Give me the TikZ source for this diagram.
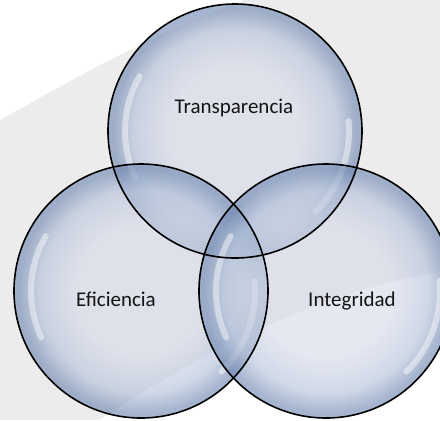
\documentclass[tikz,border=0pt]{standalone}
\usepackage{fontspec}
\setmainfont{Carlito}
\usepackage{tikz}
\usetikzlibrary{positioning}
\usepackage{xcolor}
\definecolor{bggray}{RGB}{236,236,236}
\definecolor{bubblein}{RGB}{214,218,233}
\definecolor{bubblemid}{RGB}{180,194,218}
\definecolor{bubblerim}{RGB}{112,136,178}
\definecolor{labelink}{RGB}{20,20,20}
\pgfdeclareradialshading{bubbleshade}{\pgfpoint{0bp}{0bp}}{color(0bp)=(bubblein); color(13bp)=(bubblein); color(20bp)=(bubblemid); color(24bp)=(bubblerim); color(25bp)=(bubblerim); color(50bp)=(bubblerim)}
\tikzstyle{bubble} = [shading=bubbleshade, fill opacity=0.62]
\tikzstyle{rim} = [draw=black, line width=0.8pt]
\tikzstyle{glare} = [white, line width=3pt, opacity=0.45, line cap=round]
\tikzstyle{word} = [anchor=base, text=labelink, font=\fontsize{10.5}{12}\selectfont]

\begin{document}
\begin{tikzpicture}[x=0.5pt, y=-0.5pt]
\clip (0,0) rectangle (440,420);
% Background swoosh
\fill[bggray] (0,0) rectangle (440,420);
\fill[white] (0,0) -- (245,0) .. controls (170,25) and (80,75) .. (0,120) -- cycle;
\fill[white] (100,420) .. controls (220,340) and (330,290) .. (440,272) -- (440,420) -- cycle;
% Bubbles
\coordinate (ctop) at (235,131);
\coordinate (cleft) at (141,291);
\coordinate (cright) at (326,291);
\foreach \c in {ctop,cleft,cright} {
  \shade[bubble] (\c) circle[radius=63.5pt];
  \draw[glare] (\c) ++(150:55pt) arc[start angle=150, end angle=205, radius=55pt];
  \draw[glare] (\c) ++(-45:57pt) arc[start angle=-45, end angle=5, radius=57pt];
}
\foreach \c in {ctop,cleft,cright}
  \draw[rim] (\c) circle[radius=63.5pt];
% Labels
\node[word] (ttransp) at (234,113) {Transparencia};
\node[word] (teffic) at (116,306) {Eficiencia};
\node[word] (tinteg) at (352,306) {Integridad};
\end{tikzpicture}
\end{document}
